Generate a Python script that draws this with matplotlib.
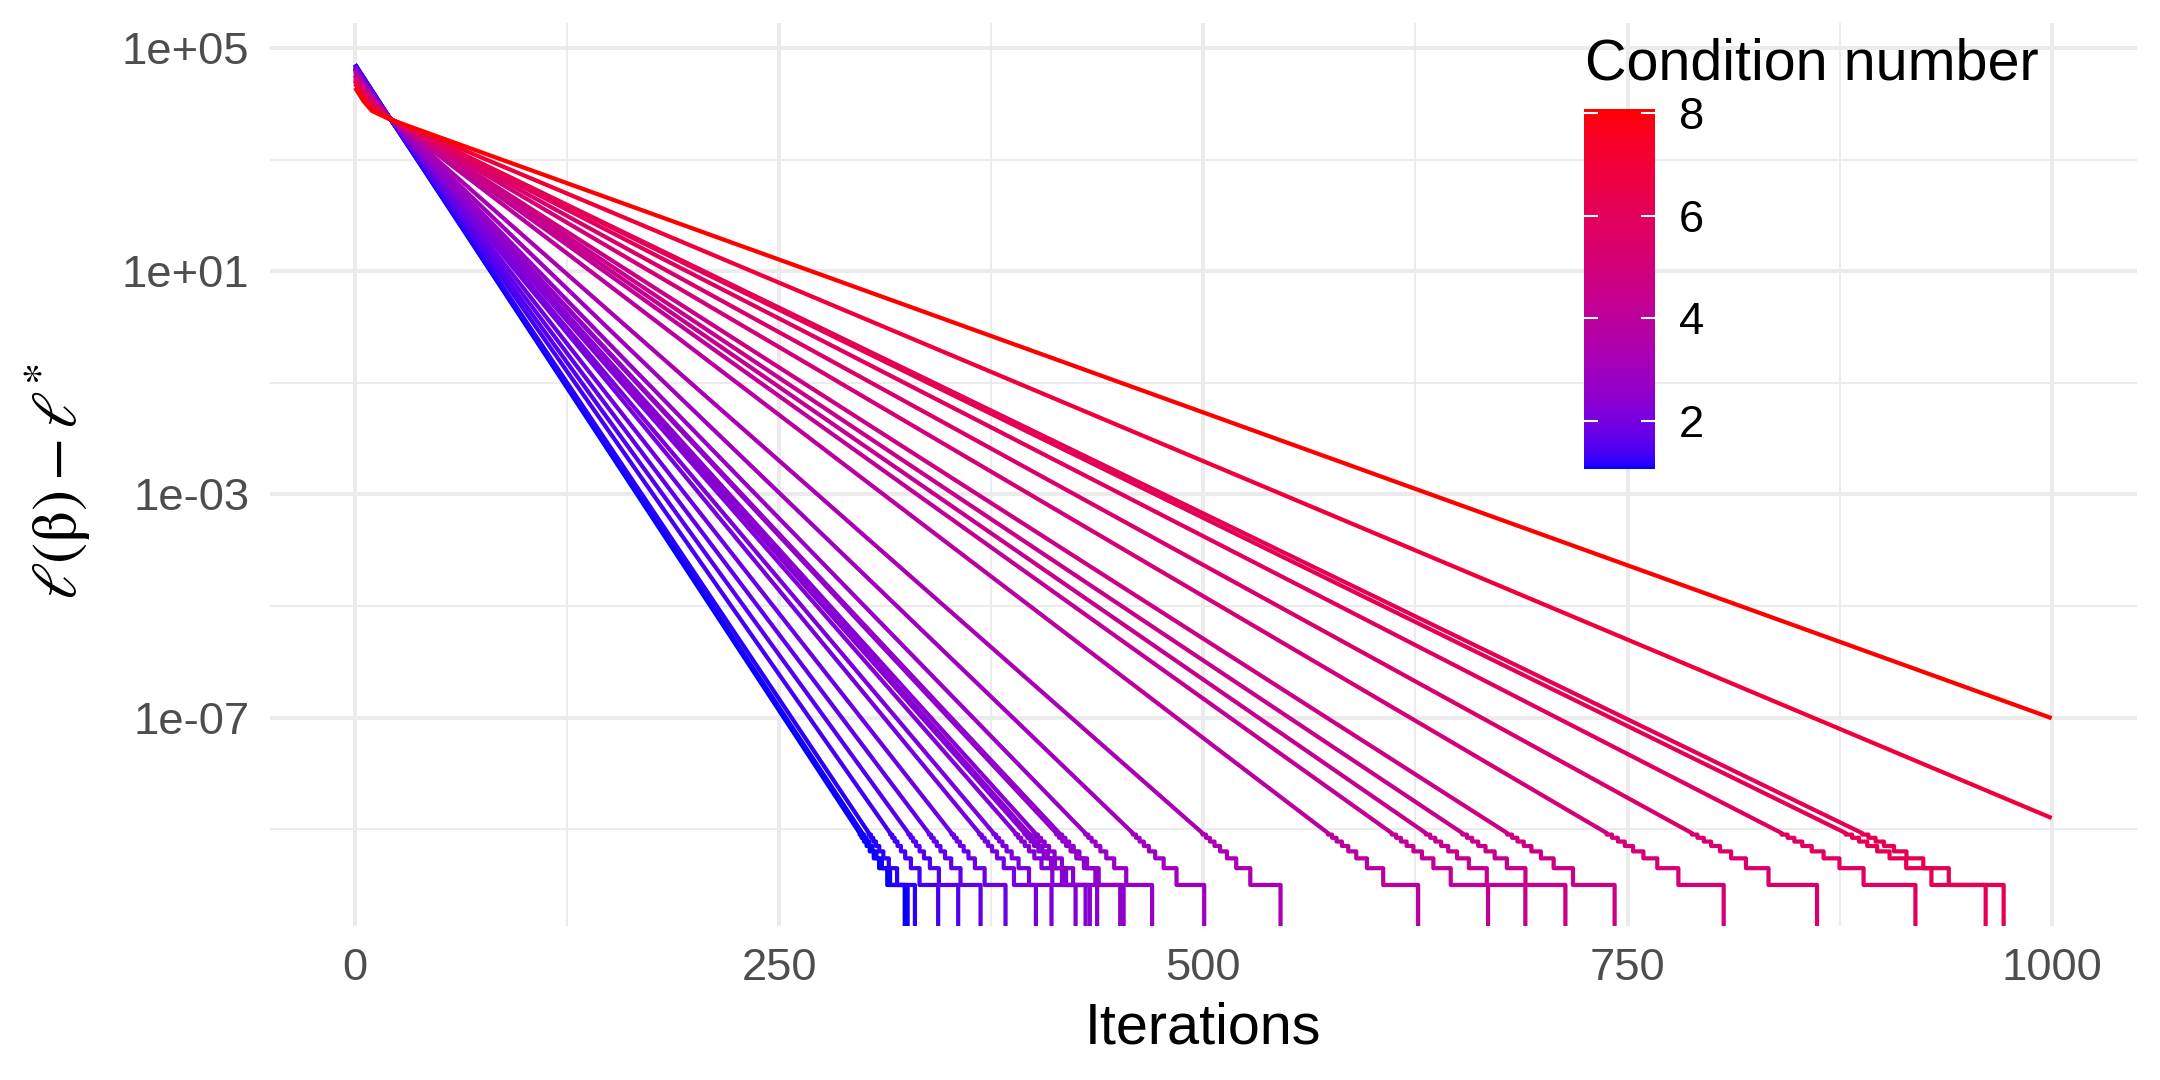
import numpy as np
import matplotlib
matplotlib.use("Agg")
import matplotlib.pyplot as plt
from matplotlib.colors import ListedColormap, Normalize
from matplotlib.cm import ScalarMappable
from matplotlib.ticker import FixedLocator, NullFormatter

plt.rcParams['font.family'] = ['Liberation Sans', 'DejaVu Sans']
plt.rcParams['mathtext.fontset'] = 'stix'

# condition number of each run (colour)
kappa = [1.06, 1.10, 1.18, 1.35, 1.50, 1.65, 1.80, 2.00, 2.10, 2.25,
         2.30, 2.35, 2.40, 2.55, 2.60, 2.75, 3.00, 3.35, 3.90, 4.20,
         4.35, 4.50, 4.70, 5.10, 5.45, 5.85, 6.10, 6.20, 6.90, 8.07]
# log10 of the gap at iterations 0, 5, 10 and 20
log_t0 = [4.710, 4.708, 4.703, 4.693, 4.684, 4.675, 4.666, 4.654, 4.648, 4.639,
          4.636, 4.633, 4.630, 4.621, 4.618, 4.609, 4.594, 4.573, 4.540, 4.522,
          4.513, 4.504, 4.492, 4.468, 4.447, 4.423, 4.408, 4.402, 4.360, 4.290]
log_t5 = [4.475, 4.473, 4.468, 4.458, 4.449, 4.440, 4.430, 4.419, 4.412, 4.403,
          4.400, 4.397, 4.394, 4.385, 4.382, 4.373, 4.357, 4.336, 4.303, 4.285,
          4.276, 4.267, 4.254, 4.230, 4.209, 4.185, 4.169, 4.164, 4.121, 4.050]
log_t10 = [4.240, 4.238, 4.234, 4.225, 4.217, 4.210, 4.202, 4.191, 4.186, 4.178,
           4.176, 4.173, 4.170, 4.162, 4.160, 4.152, 4.139, 4.121, 4.092, 4.077,
           4.069, 4.061, 4.051, 4.030, 4.011, 3.991, 3.978, 3.973, 3.937, 3.875]
log_t20 = [3.770, 3.770, 3.769, 3.768, 3.767, 3.767, 3.766, 3.765, 3.764, 3.763,
           3.763, 3.763, 3.762, 3.761, 3.761, 3.760, 3.759, 3.757, 3.754, 3.752,
           3.751, 3.750, 3.749, 3.747, 3.745, 3.743, 3.741, 3.741, 3.737, 3.730]
# iteration where the gap becomes exactly 0 (None = still above 0 at 1000)
t_zero = [324, 325.7, 330, 343.7, 355.5, 368.7, 383.4, 401.3, 410.5, 424.7,
          430.6, 433.1, 437.4, 451.0, 453.0, 469.8, 500.5, 545.5, 626.6, 667.8,
          689.8, 713.4, 742.4, 806.7, 861.7, 919.7, 961.1, 971.7, None, None]
# log10 of the gap at iteration 1000 for the two slowest runs
log_t1000 = [None] * 28 + [-8.80, -7.01]
q = 1e-10  # smallest non-zero gap (precision floor, steps of this size)

# blue -> red gradient interpolated in Lab, like scale_colour_gradient
M = np.array([[0.4124, 0.3576, 0.1805], [0.2126, 0.7152, 0.0722], [0.0193, 0.1192, 0.9505]])
white = np.array([0.95047, 1.0, 1.08883])


def to_lab(rgb):
    rgb = np.asarray(rgb, float)
    lin = np.where(rgb <= 0.04045, rgb / 12.92, ((rgb + 0.055) / 1.055) ** 2.4)
    xyz = M @ lin / white
    f = np.where(xyz > (6 / 29) ** 3, np.cbrt(xyz), xyz / (3 * (6 / 29) ** 2) + 4 / 29)
    return np.array([116 * f[1] - 16, 500 * (f[0] - f[1]), 200 * (f[1] - f[2])])


def from_lab(lab):
    fy = (lab[0] + 16) / 116
    f = np.array([fy + lab[1] / 500, fy, fy - lab[2] / 200])
    xyz = np.where(f > 6 / 29, f ** 3, 3 * (6 / 29) ** 2 * (f - 4 / 29)) * white
    lin = np.clip(np.linalg.inv(M) @ xyz, 0, 1)
    rgb = np.where(lin <= 0.0031308, 12.92 * lin, 1.055 * lin ** (1 / 2.4) - 0.055)
    return np.clip(rgb, 0, 1)


lo, hi = to_lab([0, 0, 1]), to_lab([1, 0, 0])
cmap = ListedColormap([from_lab(lo + f * (hi - lo)) for f in np.linspace(0, 1, 256)])
norm = Normalize(vmin=min(kappa), vmax=max(kappa))

W, H = 2160, 1080
fig = plt.figure(figsize=(7.2, 3.6), dpi=300)
ax = fig.add_axes([270.2 / W, 1 - 926 / H, 1866.3 / W, 902.7 / H])
ax.set_yscale('log', nonpositive='clip')

for i in range(len(kappa)):
    t = [0, 5, 10, 20]
    y = [10 ** log_t0[i], 10 ** log_t5[i], 10 ** log_t10[i], 10 ** log_t20[i]]
    if t_zero[i] is not None:
        s = (log_t20[i] - np.log10(q / 2)) / (t_zero[i] - 20)

        def t_at(level):
            return 20 + (log_t20[i] - np.log10(level)) / s
        t.append(t_at(8.5 * q))
        y.append(8.5 * q)
        for k in range(8, 0, -1):
            t += [t_at((k + 0.5) * q), t_at((k - 0.5) * q)]
            y += [k * q, k * q]
        t.append(t_zero[i])
        y.append(0)
    else:
        t.append(1000)
        y.append(10 ** log_t1000[i])
    ax.plot(t, y, color=cmap(norm(kappa[i])), lw=1.01,
            solid_joinstyle='round', solid_capstyle='butt')

ax.set_xlim(-50, 1050)
ylo, yhi = np.log10(q), max(log_t0)
pad = 0.05 * (yhi - ylo)
ax.set_ylim(10 ** (ylo - pad), 10 ** (yhi + pad))

ax.set_xticks([0, 250, 500, 750, 1000])
ax.set_xticklabels(['0', '250', '500', '750', '1000'])
ax.xaxis.set_minor_locator(FixedLocator([125, 375, 625, 875]))
ax.set_yticks([1e-7, 1e-3, 1e1, 1e5])
ax.set_yticklabels(['1e-07', '1e-03', '1e+01', '1e+05'])
ax.yaxis.set_minor_locator(FixedLocator([1e-9, 1e-5, 1e-1, 1e3]))
ax.yaxis.set_minor_formatter(NullFormatter())
ax.xaxis.set_minor_formatter(NullFormatter())

ax.grid(which='major', color='#EBEBEB', lw=0.96)
ax.grid(which='minor', color='#EBEBEB', lw=0.48)
ax.set_axisbelow(True)
for sp in ax.spines.values():
    sp.set_visible(False)
ax.tick_params(which='both', length=0, labelsize=10.9, labelcolor='#4D4D4D')
ax.tick_params(axis='x', pad=5.35)
ax.tick_params(axis='y', pad=5.0)

ax.set_xlabel('Iterations', fontsize=13.8, va='baseline')
ax.xaxis.set_label_coords(0.5, -(1043.3 - 926) / 902.7)
ax.set_ylabel(r'$\ell(\mathrm{\beta}) - \ell^{*}$', fontsize=15.2, va='center')
ax.yaxis.set_label_coords((58 - 270.2) / 1866.3, (926 - 481.5) / 902.7)

# colour bar legend inside the panel
cax = fig.add_axes([1583.7 / W, 1 - 469.3 / H, 71.2 / W, 360 / H])
cb = fig.colorbar(ScalarMappable(norm=norm, cmap=cmap), cax=cax)
cb.outline.set_visible(False)
cb.set_ticks([2, 4, 6, 8])
cb.set_ticklabels(['2', '4', '6', '8'])
cax.tick_params(axis='y', direction='in', color='white', length=3.4, width=0.5,
                left=True, right=True, labelleft=False, labelright=True,
                labelsize=10.9, labelcolor='black', pad=5.7)
fig.text(1584.9 / W, 1 - 80 / H, 'Condition number', fontsize=13.8,
         ha='left', va='baseline')

fig.savefig('out.png', dpi=300)
